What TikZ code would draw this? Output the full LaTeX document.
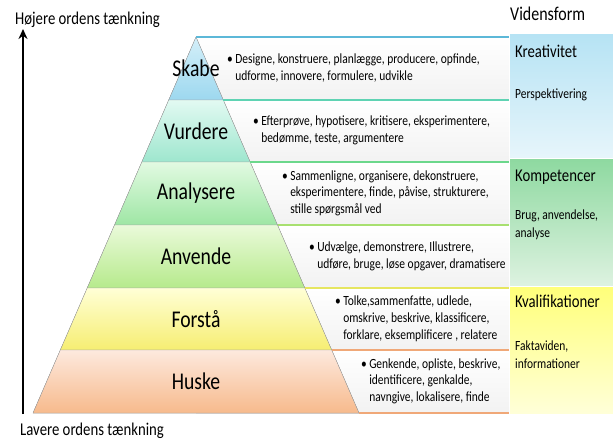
\documentclass[tikz,border=0pt]{standalone}
\usepackage{fontspec}
\setmainfont{Carlito}[FakeStretch=0.82]
\usetikzlibrary{arrows.meta}

\definecolor{skabeT}{HTML}{D4EFF9}
\definecolor{skabeB}{HTML}{9DD8EF}
\definecolor{skabeL}{HTML}{5CB8D8}
\definecolor{vurdT}{HTML}{E2FAF2}
\definecolor{vurdB}{HTML}{9EE6CE}
\definecolor{vurdL}{HTML}{5FD3B3}
\definecolor{analT}{HTML}{E2FAE2}
\definecolor{analB}{HTML}{9EE6A4}
\definecolor{analL}{HTML}{6CD88C}
\definecolor{anvT}{HTML}{EAFADA}
\definecolor{anvB}{HTML}{B6EA8C}
\definecolor{anvL}{HTML}{A8E070}
\definecolor{forT}{HTML}{FFFFD6}
\definecolor{forB}{HTML}{F6EE72}
\definecolor{forL}{HTML}{E6E660}
\definecolor{huskT}{HTML}{FDE9DE}
\definecolor{huskB}{HTML}{F7BA8C}
\definecolor{huskL}{HTML}{F0A878}
\definecolor{kreaT}{HTML}{B6E3F4}
\definecolor{kreaB}{HTML}{E6F5FB}
\definecolor{kompT}{HTML}{8ED9A0}
\definecolor{kompB}{HTML}{DDF2E0}
\definecolor{kvalT}{HTML}{FFFF7A}
\definecolor{kvalB}{HTML}{FFFFD8}

\begin{document}
\begin{tikzpicture}[x=1pt, y=-1pt, >={Stealth[length=10pt, width=9pt]},
    level/.style={font=\fontsize{24}{28}\selectfont},
    bullets/.style={anchor=west, inner sep=0pt, font=\fontsize{14}{16.8}\selectfont},
    head/.style={anchor=base west, inner sep=0pt, font=\fontsize{18}{20}\selectfont},
    sub/.style={anchor=north west, inner sep=0pt, align=left, font=\fontsize{14}{18}\selectfont},
    band/.style={draw=black!35, line width=0.4pt},
    topline/.style={line width=1.2pt}]
  \useasboundingbox (0,0) rectangle (613,440);

  % Text boxes behind the pyramid
  \fill[top color=white, bottom color=black!5] (196,37) rectangle (509,100);
  \fill[top color=white, bottom color=black!5] (196,100) rectangle (509,162);
  \fill[top color=white, bottom color=black!5] (196,162) rectangle (509,225);
  \fill[top color=white, bottom color=black!5] (196,225) rectangle (509,288);
  \fill[top color=white, bottom color=black!5] (196,288) rectangle (509,350);
  \fill[top color=white, bottom color=black!5] (196,350) rectangle (509,413);

  % Pyramid levels
  \filldraw[band, top color=skabeT, bottom color=skabeB] (196,37) -- (168.7,100) -- (223.3,100) -- cycle;
  \filldraw[band, top color=vurdT, bottom color=vurdB] (168.7,100) -- (141.8,162) -- (250.2,162) -- (223.3,100) -- cycle;
  \filldraw[band, top color=analT, bottom color=analB] (141.8,162) -- (114.5,225) -- (277.5,225) -- (250.2,162) -- cycle;
  \filldraw[band, top color=anvT, bottom color=anvB] (114.5,225) -- (87.2,288) -- (304.8,288) -- (277.5,225) -- cycle;
  \filldraw[band, top color=forT, bottom color=forB] (87.2,288) -- (60.3,350) -- (331.7,350) -- (304.8,288) -- cycle;
  \filldraw[band, top color=huskT, bottom color=huskB] (60.3,350) -- (33,413) -- (359,413) -- (331.7,350) -- cycle;

  % Lines on top of the text boxes
  \draw[topline, skabeL] (196,37) -- (509,37);
  \draw[topline, vurdL] (223.3,100) -- (509,100);
  \draw[topline, analL] (250.2,162) -- (509,162);
  \draw[topline, anvL] (277.5,225) -- (509,225);
  \draw[topline, forL] (304.8,288) -- (509,288);
  \draw[topline, huskL] (331.7,350) -- (509,350);
  \draw[topline, huskL] (359,413) -- (509,413);

  % Level names
  \node[level] (skabe) at (196,68.5) {Skabe};
  \node[level] (vurdere) at (196,131) {Vurdere};
  \node[level] (analysere) at (196,193.5) {Analysere};
  \node[level] (anvende) at (196,256.5) {Anvende};
  \node[level] (forstaa) at (196,319) {Forstå};
  \node[level] (huske) at (196,381.5) {Huske};

  % Verbs for each level
  \node[bullets] (skabe-txt) at (227,69) {\begin{tabular}{@{}l@{\,}l@{}}\textbullet & Designe, konstruere, planlægge, producere, opfinde,\\ & udforme, innovere, formulere, udvikle\end{tabular}};
  \node[bullets] (vurdere-txt) at (253,131) {\begin{tabular}{@{}l@{\,}l@{}}\textbullet & Efterprøve, hypotisere, kritisere, eksperimentere,\\ & bedømme, teste, argumentere\end{tabular}};
  \node[bullets] (analysere-txt) at (282,193.5) {\begin{tabular}{@{}l@{\,}l@{}}\textbullet & Sammenligne, organisere, dekonstruere,\\ & eksperimentere, finde, påvise, strukturere,\\ & stille spørgsmål ved\end{tabular}};
  \node[bullets] (anvende-txt) at (309,256.5) {\begin{tabular}{@{}l@{\,}l@{}}\textbullet & Udvælge, demonstrere, Illustrere,\\ & udføre, bruge, løse opgaver, dramatisere\end{tabular}};
  \node[bullets] (forstaa-txt) at (335,319) {\begin{tabular}{@{}l@{\,}l@{}}\textbullet & Tolke,sammenfatte, udlede,\\ & omskrive, beskrive, klassificere,\\ & forklare, eksemplificere , relatere\end{tabular}};
  \node[bullets] (huske-txt) at (361,381.5) {\begin{tabular}{@{}l@{\,}l@{}}\textbullet & Genkende, opliste, beskrive,\\ & identificere, genkalde,\\ & navngive, lokalisere, finde\end{tabular}};

  % Kinds of knowledge
  \fill[top color=kreaT, bottom color=kreaB] (510,34) rectangle (613,157);
  \fill[top color=kompT, bottom color=kompB] (510,159) rectangle (613,285);
  \fill[top color=kvalT, bottom color=kvalB] (510,287) rectangle (613,413);
  \node[head, font=\fontsize{19.5}{22}\selectfont] (vidensform) at (510,20.5) {Vidensform};
  \node[head] (krea) at (515,57) {Kreativitet};
  \node[sub] (krea-sub) at (515,89) {Perspektivering};
  \node[head] (komp) at (515,181) {Kompetencer};
  \node[sub] (komp-sub) at (515,210) {Brug, anvendelse,\\analyse};
  \node[head] (kval) at (515,307) {Kvalifikationer};
  \node[sub] (kval-sub) at (515,341) {Faktaviden,\\informationer};

  % Axis of thinking
  \coordinate (low) at (23,414);
  \coordinate (high) at (23,29);
  \draw[->, line width=2pt] (low) -- (high);
  \node[head] (hoejere) at (15,24) {Højere ordens tænkning};
  \node[head] (lavere) at (20,435) {Lavere ordens tænkning};
\end{tikzpicture}
\end{document}
